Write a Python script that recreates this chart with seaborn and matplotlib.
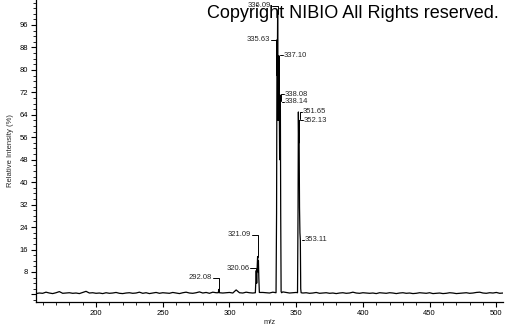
import numpy as np
import pandas as pd
import matplotlib
matplotlib.use("Agg")
import matplotlib.pyplot as plt
from matplotlib.ticker import MultipleLocator, FixedLocator
import seaborn as sns

# ---- data ----
baseline_mz = np.arange(155.0, 505.1, 2.5)
baseline_int = [
    0.3, 0.5, 0.4, 0.8, 0.5, 0.3, 0.6, 1.0, 0.4, 0.5,
    0.6, 0.4, 0.5, 0.3, 0.7, 1.1, 0.5, 0.6, 0.4, 0.5,
    0.3, 0.6, 0.4, 0.5, 0.7, 0.4, 0.3, 0.5, 0.6, 0.4,
    0.5, 0.8, 0.4, 0.6, 0.3, 0.5, 0.7, 0.4, 0.6, 0.5,
    0.4, 0.7, 0.5, 0.3, 0.6, 0.8, 0.5, 0.4, 0.6, 0.9,
    0.5, 0.7, 0.4, 0.8, 0.6, 1.0, 0.5, 0.6, 0.7, 0.5,
    1.6, 0.6, 0.5, 0.8, 0.6, 0.5, 0.6, 0.5, 0.7, 0.6,
    0.5, 0.8, 0.6, 0.7, 0.9, 0.7, 0.5, 0.6, 0.7, 0.6,
    0.5, 0.6, 0.4, 0.5, 0.7, 0.4, 0.5, 0.6, 0.4, 0.5,
    0.3, 0.5, 0.6, 0.4, 0.5, 0.8, 0.5, 0.4, 0.6, 0.5,
    0.4, 0.5, 0.3, 0.6, 0.5, 0.4, 0.6, 0.5, 0.3, 0.5,
    0.6, 0.4, 0.5, 0.3, 0.4, 0.6, 0.5, 0.4, 0.6, 0.3,
    0.4, 0.5, 0.3, 0.4, 0.6, 0.5, 0.3, 0.4, 0.5, 0.6,
    0.4, 0.5, 0.7, 0.8, 0.5, 0.4, 0.6, 0.5, 0.7, 0.4,
    0.5,
]

peak_mz = [
    291.6, 292.08, 292.5,
    319.4, 319.8, 320.06, 320.4, 320.7, 321.09, 321.4, 321.7, 322.0, 322.4,
    334.9, 335.3, 335.5, 335.63, 335.85, 336.09, 336.5, 337.10, 337.6,
    338.08, 338.14, 338.4, 338.7, 339.1,
    351.0, 351.4, 351.65, 351.9, 352.13, 352.5, 352.8, 353.11, 353.4, 353.7,
]
peak_int = [
    0.6, 1.8, 0.6,
    0.6, 5.0, 8.5, 4.0, 9.0, 13.5, 8.0, 12.0, 6.0, 0.7,
    0.6, 29.0, 70.0, 90.7, 78.0, 100.0, 62.0, 85.0, 48.0,
    71.0, 68.6, 29.0, 1.0, 0.6,
    0.6, 31.0, 65.0, 54.0, 62.0, 31.0, 22.0, 19.4, 2.0, 0.6,
]
peak_windows = [(291.5, 292.6), (319.2, 322.6), (334.8, 339.2), (350.9, 353.8)]

label_mz = [292.08, 320.06, 321.09, 335.63, 336.09, 337.10, 338.08, 338.14, 351.65, 352.13, 353.11]
label_text = ["292.08", "320.06", "321.09", "335.63", "336.09", "337.10",
              "338.08", "338.14", "351.65", "352.13", "353.11"]
label_y = [5.9, 9.4, 21.2, 90.7, 102.9, 85.3, 71.4, 68.6, 65.0, 62.1, 19.4]
label_side = ["L", "L", "L", "L", "L", "R", "R", "R", "R", "R", "R"]
label_hook = [0, 0, 0, 0, 0, 0, 2.5, 0, 2.5, 0, 0]

y_ticks = [0, 8, 16, 24, 32, 40, 48, 56, 64, 72, 80, 88, 96]
y_ticklabels = ["", "8", "16", "24", "32", "40", "48", "56", "64", "72", "80", "88", "96"]
x_ticks = [200, 250, 300, 350, 400, 450, 500]

# ---- build profile ----
bmz = np.asarray(baseline_mz)
bint = np.asarray(baseline_int)
keep = np.ones(len(bmz), dtype=bool)
for lo, hi in peak_windows:
    keep &= ~((bmz >= lo) & (bmz <= hi))
mz_all = np.concatenate([bmz[keep], np.asarray(peak_mz)])
int_all = np.concatenate([bint[keep], np.asarray(peak_int)])
order = np.argsort(mz_all, kind="stable")
df = pd.DataFrame({"mz": mz_all[order], "intensity": int_all[order]})

# ---- plot ----
sns.set_style("ticks")
plt.rcParams["font.family"] = ["Liberation Sans", "DejaVu Sans"]

fig = plt.figure(figsize=(5.05, 3.25), dpi=100)
ax = fig.add_axes([36 / 505, 23 / 325, 467 / 505, 302 / 325])

sns.lineplot(data=df, x="mz", y="intensity", ax=ax, color="black",
             linewidth=0.9, sort=False, estimator=None)

ax.set_xlim(155, 505)
ax.set_ylim(-2.7, 104.9)

ax.yaxis.set_major_locator(FixedLocator(y_ticks))
ax.set_yticklabels(y_ticklabels)
ax.yaxis.set_minor_locator(MultipleLocator(2))
ax.xaxis.set_major_locator(FixedLocator(x_ticks))
ax.xaxis.set_minor_locator(MultipleLocator(10))

ax.tick_params(axis="both", which="major", length=3.5, width=0.8, labelsize=5.5,
               colors="black", pad=2)
ax.tick_params(axis="both", which="minor", length=2.2, width=0.7)

for s in ["top", "right"]:
    ax.spines[s].set_visible(False)
for s in ["left", "bottom"]:
    ax.spines[s].set_linewidth(0.9)
    ax.spines[s].set_color("black")

ax.set_xlabel("m/z", fontsize=5.5, labelpad=2)
ax.set_ylabel("Relative Intensity (%)", fontsize=5.5, labelpad=4)

# peak labels with leader lines
prof_mz = df["mz"].to_numpy()
prof_int = df["intensity"].to_numpy()
for mz, txt, ly, side, hook in zip(label_mz, label_text, label_y, label_side, label_hook):
    top = float(np.interp(mz, prof_mz, prof_int))
    if side == "L":
        ax.plot([mz - 4.5, mz, mz], [ly, ly, min(ly, top)], color="black", lw=0.7)
        ax.text(mz - 5.0, ly, txt, ha="right", va="center", fontsize=5.5)
    else:
        ax.plot([mz + 3.0, mz + 0.9, mz + 0.9], [ly, ly, ly - hook], color="black", lw=0.7)
        ax.text(mz + 3.5, ly, txt, ha="left", va="center", fontsize=5.5)

fig.text(207 / 505, 1 - 14 / 325, "Copyright NIBIO All Rights reserved.",
         fontsize=13, ha="left", va="center", color="black")

fig.savefig("out.png", dpi=100)
